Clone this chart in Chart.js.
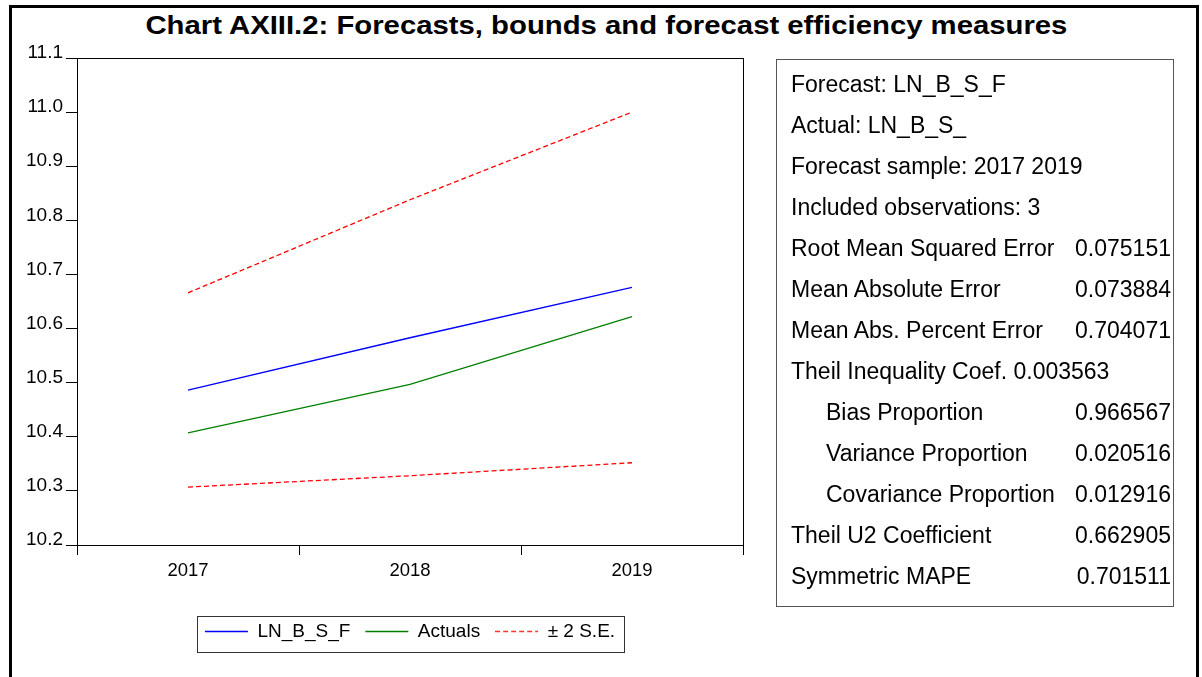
<!DOCTYPE html>
<html>
<head>
<meta charset="utf-8">
<script src="https://cdn.jsdelivr.net/npm/chart.js@4.4.1/dist/chart.umd.min.js"></script>
<style>
  html, body { margin: 0; padding: 0; background: #fff; overflow: hidden; }
  #wrap { position: relative; width: 1202px; height: 677px; font-family: Arial, "Liberation Sans", sans-serif; }
  #frame { position: absolute; left: 9px; top: 5px; width: 1184px; height: 720px; border: 3px solid #000; }
  #title { position: absolute; left: 5px; top: 10px; width: 1202px; text-align: center; font: bold 25px Arial, "Liberation Sans", sans-serif; line-height: 30px; color: #000; }
  #title span { display: inline-block; transform-origin: center; white-space: nowrap; }
  #chart { position: absolute; left: 0; top: 0; }
  #stats { position: absolute; left: 776px; top: 59px; width: 398px; height: 548px; border: 1px solid #555; box-sizing: border-box; padding-top: 4px; }
  .row { position: relative; height: 41px; line-height: 41px; font-size: 23px; color: #000; white-space: nowrap; }
  .row .lab { position: absolute; left: 14px; }
  .row .lab.ind { left: 49px; }
  .row .val { position: absolute; right: 2px; }
</style>
</head>
<body>
<div id="wrap">
  <div id="frame"></div>
  <div id="title"><span id="titleText">Chart AXIII.2: Forecasts, bounds and forecast efficiency measures</span></div>
  <canvas id="chart" width="1202" height="677"></canvas>
  <div id="stats"></div>
</div>
<script>
// data
const years = ['2017', '2018', '2019'];
const forecast = [10.486, 10.583, 10.676];
const actuals = [10.407, 10.497, 10.622];
const upperBound = [10.666, 10.838, 11.000];
const lowerBound = [10.307, 10.328, 10.352];
const yTicks = [10.2, 10.3, 10.4, 10.5, 10.6, 10.7, 10.8, 10.9, 11.0, 11.1];

// forecast evaluation table
const statLabels = [
  'Forecast: LN_B_S_F',
  'Actual: LN_B_S_',
  'Forecast sample: 2017 2019',
  'Included observations: 3',
  'Root Mean Squared Error',
  'Mean Absolute Error',
  'Mean Abs. Percent Error',
  'Theil Inequality Coef. 0.003563',
  'Bias Proportion',
  'Variance Proportion',
  'Covariance Proportion',
  'Theil U2 Coefficient',
  'Symmetric MAPE'
];
const statValues = ['', '', '', '', '0.075151', '0.073884', '0.704071', '', '0.966567', '0.020516', '0.012916', '0.662905', '0.701511'];
const statIndent = [false, false, false, false, false, false, false, false, true, true, true, false, false];

const stats = document.getElementById('stats');
statLabels.forEach(function (lab, i) {
  const row = document.createElement('div');
  row.className = 'row';
  const l = document.createElement('span');
  l.className = 'lab' + (statIndent[i] ? ' ind' : '');
  l.textContent = lab;
  row.appendChild(l);
  if (statValues[i]) {
    const v = document.createElement('span');
    v.className = 'val';
    v.textContent = statValues[i];
    row.appendChild(v);
  }
  stats.appendChild(row);
});

// stretch title to the width seen in the picture
const tt = document.getElementById('titleText');
tt.style.transform = 'scaleX(' + (922 / tt.getBoundingClientRect().width) + ')';

const FONT = 'Arial, "Liberation Sans", sans-serif';

// legend sample for the dashed band (legend point styles ignore borderDash)
function dashSample(color) {
  const c = document.createElement('canvas');
  c.width = 43;
  c.height = 3;
  const g = c.getContext('2d');
  g.strokeStyle = color;
  g.lineWidth = 1.3;
  g.setLineDash([5, 3]);
  g.beginPath();
  g.moveTo(0, 1.5);
  g.lineTo(43, 1.5);
  g.stroke();
  return c;
}

const frameAndLegendBox = {
  id: 'frameAndLegendBox',
  afterDraw(chart) {
    const ctx = chart.ctx;
    const a = chart.chartArea;
    ctx.save();
    ctx.strokeStyle = '#000';
    ctx.lineWidth = 1;
    ctx.strokeRect(a.left + 0.5, a.top + 0.5, a.right - a.left, a.bottom - a.top);
    const hb = chart.legend.legendHitBoxes;
    if (hb && hb.length) {
      const last = hb[hb.length - 1];
      const x0 = hb[0].left - 8;
      const x1 = last.left + last.width + 9;
      const y0 = hb[0].top - 6;
      ctx.strokeStyle = '#333';
      ctx.strokeRect(Math.round(x0) + 0.5, Math.round(y0) + 0.5, Math.round(x1 - x0), 36);
    }
    ctx.restore();
  }
};

new Chart(document.getElementById('chart'), {
  type: 'line',
  data: {
    labels: years,
    datasets: [
      { label: 'LN_B_S_F', data: forecast, borderColor: '#0000ff', borderWidth: 1.3, pointStyle: 'line' },
      { label: 'Actuals', data: actuals, borderColor: '#008000', borderWidth: 1.3, pointStyle: 'line' },
      { label: '\u00b1 2 S.E.', data: upperBound, borderColor: '#ff0000', borderWidth: 1.3, borderDash: [5, 3], pointStyle: dashSample('#ff3030') },
      { label: 'lower', data: lowerBound, borderColor: '#ff0000', borderWidth: 1.3, borderDash: [5, 3] }
    ]
  },
  options: {
    responsive: false,
    devicePixelRatio: 1,
    animation: false,
    elements: { point: { radius: 0, hoverRadius: 0 }, line: { tension: 0 } },
    layout: { padding: { left: 10, top: 58, right: 459, bottom: 26 } },
    plugins: {
      tooltip: { enabled: false },
      legend: {
        position: 'bottom',
        fullSize: false,
        labels: {
          color: '#000',
          font: { family: FONT, size: 19 },
          usePointStyle: true,
          pointStyleWidth: 43,
          padding: 15,
          filter: function (item) { return item.text !== 'lower'; }
        }
      }
    },
    scales: {
      x: {
        type: 'category',
        offset: true,
        grid: { offset: true, drawOnChartArea: false, drawTicks: true, tickLength: 10, color: '#000' },
        border: { display: true, color: '#000', width: 1 },
        ticks: { color: '#000', font: { family: FONT, size: 18.5 }, padding: 5, maxRotation: 0 },
        afterFit: function (s) { s.height = 62; }
      },
      y: {
        min: 10.2,
        max: 11.1,
        afterBuildTicks: function (s) { s.ticks = yTicks.map(function (v) { return { value: v }; }); },
        grid: { drawOnChartArea: false, drawTicks: true, tickLength: 11, color: '#000' },
        border: { display: true, color: '#000', width: 1 },
        ticks: {
          color: '#000',
          font: { family: FONT, size: 19 },
          padding: 3,
          labelOffset: -5,
          callback: function (v) { return Number(v).toFixed(1); }
        },
        afterFit: function (s) { s.width = 67; }
      }
    }
  },
  plugins: [frameAndLegendBox]
});
</script>
</body>
</html>
